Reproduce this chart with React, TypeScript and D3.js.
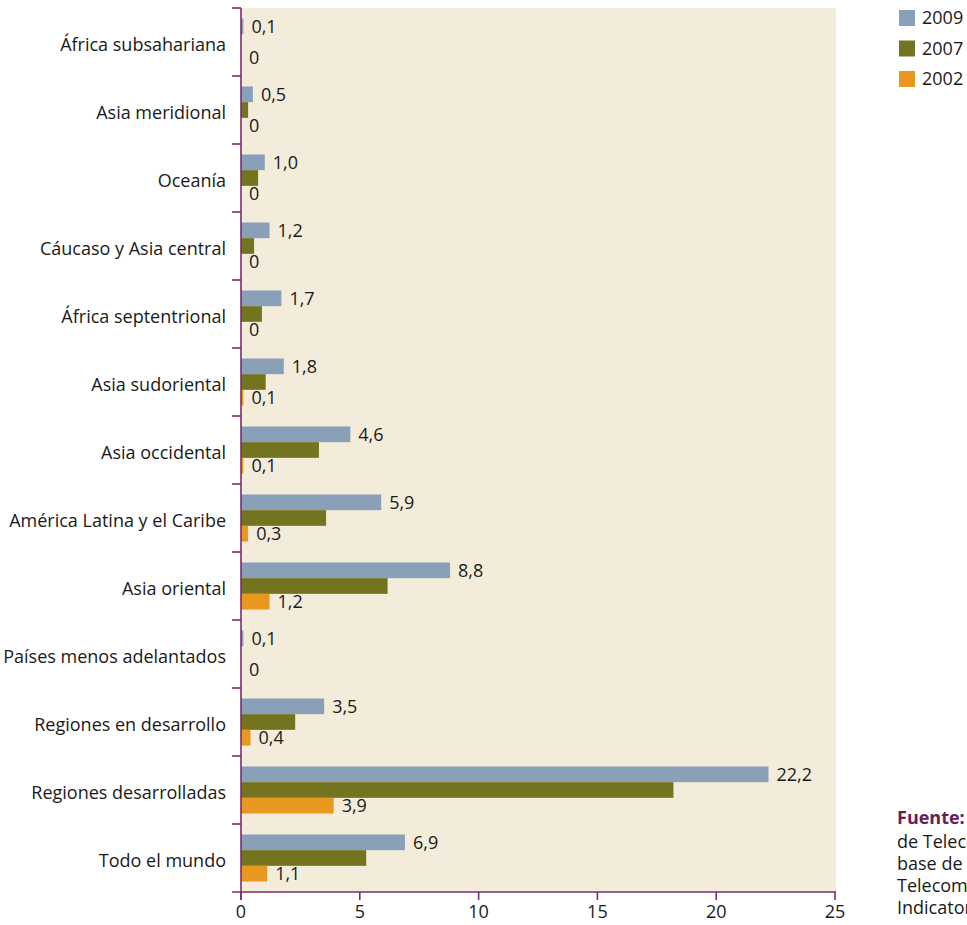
import React from "react";
import * as d3 from "d3";

const categories = [
  "África subsahariana",
  "Asia meridional",
  "Oceanía",
  "Cáucaso y Asia central",
  "África septentrional",
  "Asia sudoriental",
  "Asia occidental",
  "América Latina y el Caribe",
  "Asia oriental",
  "Países menos adelantados",
  "Regiones en desarrollo",
  "Regiones desarrolladas",
  "Todo el mundo",
];
const years = ["2009", "2007", "2002"];
const values2009 = [0.1, 0.5, 1.0, 1.2, 1.7, 1.8, 4.6, 5.9, 8.8, 0.1, 3.5, 22.2, 6.9];
const values2007 = [0, 0.3, 0.72, 0.55, 0.88, 1.04, 3.28, 3.58, 6.17, 0, 2.28, 18.2, 5.27];
const values2002 = [0, 0, 0, 0, 0, 0.1, 0.1, 0.3, 1.2, 0, 0.4, 3.9, 1.1];
const xTicks = [0, 5, 10, 15, 20, 25];
const sourceLines = [
  "de Telecomunicaciones (UIT),",
  "base de datos World",
  "Telecommunication/ICT",
  "Indicators.",
];

const colors: Record<string, string> = {
  "2009": "#8a9fb8",
  "2007": "#74731f",
  "2002": "#e8971f",
};
const axisColor = "#7b2c6e";
const bgColor = "#f3ecdb";
const font = "'Open Sans', 'Noto Sans', sans-serif";
const fs = 18;

const fmt = (v: number) => (v === 0 ? "0" : v.toFixed(1).replace(".", ","));

export default function App() {
  const W = 967;
  const H = 925;
  const left = 241;
  const right = 836;
  const top = 8;
  const bottom = 892;

  const x = d3.scaleLinear().domain([0, 25]).range([left, right - 1]);
  const y = d3.scaleBand<string>().domain(categories).range([top, bottom]).padding(0);
  const inner = d3
    .scaleBand<string>()
    .domain(years)
    .range([0, y.bandwidth()])
    .paddingInner(0)
    .paddingOuter(0.67);

  const series: Record<string, number[]> = {
    "2009": values2009,
    "2007": values2007,
    "2002": values2002,
  };
  const labelled = ["2009", "2002"];

  return (
    <svg
      width={W}
      height={H}
      style={{ position: "absolute", left: 0, top: 0, display: "block" }}
      fontFamily={font}
    >
      <rect x={left} y={top} width={right - left} height={bottom - top} fill={bgColor} />

      {categories.map((c, i) => (
        <g key={c} transform={`translate(0,${y(c)})`}>
          {years.map((yr) => {
            const v = series[yr][i];
            const by = inner(yr)!;
            return (
              <g key={yr}>
                <rect
                  x={x(0)}
                  y={by}
                  width={x(v) - x(0)}
                  height={inner.bandwidth()}
                  fill={colors[yr]}
                />
                {labelled.includes(yr) && (
                  <text
                    x={x(v) + 8}
                    y={by + inner.bandwidth() / 2}
                    dy="0.36em"
                    fontSize={fs}
                    fill="#1a1a1a"
                  >
                    {fmt(v)}
                  </text>
                )}
              </g>
            );
          })}
          <text
            x={226}
            y={y.bandwidth() / 2}
            dy="0.5em"
            textAnchor="end"
            fontSize={fs}
            fill="#1a1a1a"
          >
            {c}
          </text>
        </g>
      ))}

      {/* category axis with boundary ticks */}
      <line x1={left} x2={left} y1={top} y2={bottom + 8} stroke={axisColor} strokeWidth={1.6} />
      {categories.map((c) => (
        <line
          key={c}
          x1={left - 9}
          x2={left}
          y1={y(c)!}
          y2={y(c)!}
          stroke={axisColor}
          strokeWidth={1.6}
        />
      ))}

      {/* value axis */}
      <line x1={left - 9} x2={right} y1={bottom} y2={bottom} stroke={axisColor} strokeWidth={1.6} />
      {xTicks.map((t) => (
        <g key={t}>
          <line x1={x(t)} x2={x(t)} y1={bottom} y2={bottom + 8} stroke={axisColor} strokeWidth={1.6} />
          <text x={x(t)} y={bottom + 20} dy="0.36em" textAnchor="middle" fontSize={fs} fill="#1a1a1a">
            {t}
          </text>
        </g>
      ))}

      {/* legend */}
      {years.map((yr, i) => (
        <g key={yr} transform={`translate(899,${10 + i * 30.5})`}>
          <rect width={16} height={16} fill={colors[yr]} />
          <text x={23} y={8} dy="0.36em" fontSize={fs} fill="#1a1a1a">
            {yr}
          </text>
        </g>
      ))}

      {/* source note */}
      <text x={897} y={824} fontSize={fs} fill="#1a1a1a">
        <tspan fontWeight="bold" fill="#6b1b5c">
          Fuente:
        </tspan>
        <tspan> Unión Internacional</tspan>
      </text>
      {sourceLines.map((l, i) => (
        <text key={l} x={897} y={848 + i * 22} fontSize={fs} fill="#1a1a1a">
          {l}
        </text>
      ))}
    </svg>
  );
}
